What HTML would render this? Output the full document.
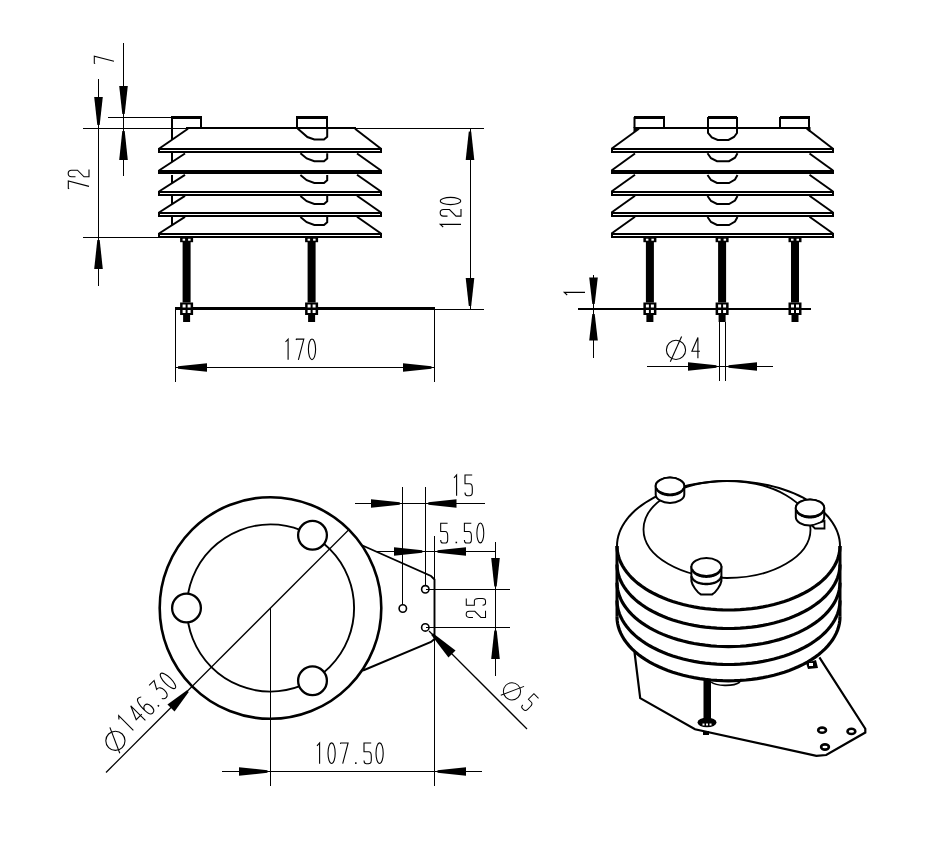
<!DOCTYPE html>
<html><head><meta charset="utf-8"><style>
html,body{margin:0;padding:0;background:#fff;}
svg{display:block;}
</style></head><body>
<svg width="950" height="864" viewBox="0 0 950 864">
<rect width="950" height="864" fill="#fff"/>
<g stroke="#000" fill="none" stroke-linecap="butt" stroke-linejoin="miter">
<line x1="123.5" y1="43" x2="123.5" y2="176" stroke-width="1.0" shape-rendering="crispEdges"/>
<path d="M119.20,86.00 L122.30,114.00 L124.70,114.00 L127.80,86.00Z" stroke="none" fill="#000"/>
<path d="M127.80,160.00 L124.70,131.00 L122.30,131.00 L119.20,160.00Z" stroke="none" fill="#000"/>
<line x1="108" y1="117.5" x2="172" y2="117.5" stroke-width="1.0" shape-rendering="crispEdges"/>
<line x1="83" y1="128.5" x2="484" y2="128.5" stroke-width="1.0" shape-rendering="crispEdges"/>
<g transform="translate(94,63.8) rotate(-90) scale(0.95)"><g transform="translate(0.00,0)"><path d="M0.3,1.2 L0.6,0.3 L8,0.3 L2.6,21" stroke-width="1.1" fill="none"/></g></g>
<line x1="98.5" y1="79" x2="98.5" y2="286" stroke-width="1.0" shape-rendering="crispEdges"/>
<path d="M94.20,97.00 L97.30,125.00 L99.70,125.00 L102.80,97.00Z" stroke="none" fill="#000"/>
<path d="M102.80,269.00 L99.70,240.00 L97.30,240.00 L94.20,269.00Z" stroke="none" fill="#000"/>
<line x1="83" y1="237.5" x2="159" y2="237.5" stroke-width="1.0" shape-rendering="crispEdges"/>
<g transform="translate(68,189) rotate(-90) scale(1.0)"><g transform="translate(0.00,0)"><path d="M0.3,1.2 L0.6,0.3 L8,0.3 L2.6,21" stroke-width="1.1" fill="none"/></g><g transform="translate(11.80,0)"><path d="M0.4,7.5 L0.4,3.5 C0.4,1 2,0.2 3.8,0.2 C5.8,0.2 7,1.5 7,3.5 L7,9.5 L0.4,16 L0.4,21 L7.6,21" stroke-width="1.1" fill="none"/></g></g>
<line x1="470" y1="128" x2="470" y2="309" stroke-width="1.0" shape-rendering="crispEdges"/>
<path d="M474.30,160.00 L471.20,131.50 L468.80,131.50 L465.70,160.00Z" stroke="none" fill="#000"/>
<path d="M465.70,278.00 L468.80,306.00 L471.20,306.00 L474.30,278.00Z" stroke="none" fill="#000"/>
<line x1="435" y1="309.5" x2="484" y2="309.5" stroke-width="1.0" shape-rendering="crispEdges"/>
<g transform="translate(440,228) rotate(-90) scale(1.0)"><g transform="translate(0.00,0)"><path d="M1,3.2 L3.6,0.3 L3.6,21" stroke-width="1.1" fill="none"/></g><g transform="translate(11.50,0)"><path d="M0.4,7.5 L0.4,3.5 C0.4,1 2,0.2 3.8,0.2 C5.8,0.2 7,1.5 7,3.5 L7,9.5 L0.4,16 L0.4,21 L7.6,21" stroke-width="1.1" fill="none"/></g><g transform="translate(23.00,0)"><ellipse cx="4" cy="10.5" rx="3.6" ry="10.3" stroke-width="1.1" fill="none"/></g></g>
<line x1="175" y1="308" x2="175" y2="382" stroke-width="1.0" shape-rendering="crispEdges"/>
<line x1="434.5" y1="309" x2="434.5" y2="382" stroke-width="1.0" shape-rendering="crispEdges"/>
<line x1="175" y1="367.5" x2="434.5" y2="367.5" stroke-width="1.0" shape-rendering="crispEdges"/>
<path d="M207.00,363.20 L178.00,366.30 L178.00,368.70 L207.00,371.80Z" stroke="none" fill="#000"/>
<path d="M403.00,371.80 L431.50,368.70 L431.50,366.30 L403.00,363.20Z" stroke="none" fill="#000"/>
<g transform="translate(284.5,338.8) rotate(0) scale(1.0)"><g transform="translate(0.00,0)"><path d="M1,3.2 L3.6,0.3 L3.6,21" stroke-width="1.1" fill="none"/></g><g transform="translate(11.30,0)"><path d="M0.3,1.2 L0.6,0.3 L8,0.3 L2.6,21" stroke-width="1.1" fill="none"/></g><g transform="translate(23.50,0)"><ellipse cx="4" cy="10.5" rx="3.6" ry="10.3" stroke-width="1.1" fill="none"/></g></g>
<path d="M188.00,128.80 L159.00,148.70" stroke-width="2.0" fill="none"/>
<path d="M355.00,128.80 L381.00,148.70" stroke-width="2.0" fill="none"/>
<rect x="158" y="148.2" width="224" height="2" fill="#000" stroke="none" shape-rendering="crispEdges"/>
<rect x="158" y="151.2" width="224" height="2" fill="#000" stroke="none" shape-rendering="crispEdges"/>
<rect x="158" y="148.2" width="2" height="5" fill="#000" stroke="none" shape-rendering="crispEdges"/>
<rect x="380" y="148.2" width="2" height="5" fill="#000" stroke="none" shape-rendering="crispEdges"/>
<path d="M185.00,153.50 L159.00,170.50" stroke-width="2.0" fill="none"/>
<path d="M357.00,153.50 L381.00,170.50" stroke-width="2.0" fill="none"/>
<rect x="158" y="170" width="224" height="4" fill="#000" stroke="none" shape-rendering="crispEdges"/>
<path d="M185.00,174.80 L159.00,191.50" stroke-width="2.0" fill="none"/>
<path d="M357.00,174.80 L381.00,191.50" stroke-width="2.0" fill="none"/>
<rect x="158" y="191" width="224" height="2" fill="#000" stroke="none" shape-rendering="crispEdges"/>
<rect x="158" y="194" width="224" height="2" fill="#000" stroke="none" shape-rendering="crispEdges"/>
<rect x="158" y="191" width="2" height="5" fill="#000" stroke="none" shape-rendering="crispEdges"/>
<rect x="380" y="191" width="2" height="5" fill="#000" stroke="none" shape-rendering="crispEdges"/>
<path d="M185.00,195.80 L159.00,212.50" stroke-width="2.0" fill="none"/>
<path d="M357.00,195.80 L381.00,212.50" stroke-width="2.0" fill="none"/>
<rect x="158" y="212" width="224" height="2" fill="#000" stroke="none" shape-rendering="crispEdges"/>
<rect x="158" y="215" width="224" height="2" fill="#000" stroke="none" shape-rendering="crispEdges"/>
<rect x="158" y="212" width="2" height="5" fill="#000" stroke="none" shape-rendering="crispEdges"/>
<rect x="380" y="212" width="2" height="5" fill="#000" stroke="none" shape-rendering="crispEdges"/>
<path d="M185.00,216.80 L159.00,233.50" stroke-width="2.0" fill="none"/>
<path d="M357.00,216.80 L381.00,233.50" stroke-width="2.0" fill="none"/>
<rect x="158" y="233" width="224" height="2" fill="#000" stroke="none" shape-rendering="crispEdges"/>
<rect x="158" y="236" width="224" height="2" fill="#000" stroke="none" shape-rendering="crispEdges"/>
<rect x="158" y="233" width="2" height="5" fill="#000" stroke="none" shape-rendering="crispEdges"/>
<rect x="380" y="233" width="2" height="5" fill="#000" stroke="none" shape-rendering="crispEdges"/>
<rect x="186" y="127" width="170" height="2" fill="#000" stroke="none" shape-rendering="crispEdges"/>
<rect x="170.5" y="128" width="2" height="11.5" fill="#000" stroke="none" shape-rendering="crispEdges"/>
<rect x="170.5" y="153.2" width="2" height="8.5" fill="#000" stroke="none" shape-rendering="crispEdges"/>
<rect x="170.5" y="175" width="2" height="7.8" fill="#000" stroke="none" shape-rendering="crispEdges"/>
<rect x="170.5" y="196" width="2" height="7.8" fill="#000" stroke="none" shape-rendering="crispEdges"/>
<rect x="170.5" y="217" width="2" height="7.8" fill="#000" stroke="none" shape-rendering="crispEdges"/>
<path d="M172,128 L172,118 L201,118 L201,128" stroke-width="2.0" fill="none"/>
<rect x="171" y="116" width="31" height="2.7" fill="#000" stroke="none" shape-rendering="crispEdges"/>
<path d="M297,128 L297,118 L327,118 L327,128" stroke-width="2.0" fill="none"/>
<rect x="296" y="116" width="32" height="2.7" fill="#000" stroke="none" shape-rendering="crispEdges"/>
<path d="M297.6,128.5 L307.4,137 L314.3,139.5 L324,139.5 L327.2,136.7 L327.2,128.5" stroke-width="2.0" fill="none"/>
<path d="M300.4,153.2 L306.7,158.39999999999998 L314.3,161.2 L324,161.2 L327.2,158.5 L327.2,153.2" stroke-width="2.0" fill="none"/>
<path d="M300.4,175 L306.7,180.2 L314.3,183 L324,183 L327.2,180.3 L327.2,175" stroke-width="2.0" fill="none"/>
<path d="M300.4,196 L306.7,201.2 L314.3,204 L324,204 L327.2,201.3 L327.2,196" stroke-width="2.0" fill="none"/>
<path d="M300.4,217 L306.7,222.2 L314.3,225 L324,225 L327.2,222.3 L327.2,217" stroke-width="2.0" fill="none"/>
<rect x="175" y="307" width="260" height="3" fill="#000" stroke="none" shape-rendering="crispEdges"/>
<rect x="180.1" y="237.7" width="13" height="4.5" fill="#000" stroke="none"/>
<rect x="182.6" y="238.7" width="2.5" height="2" fill="#fff" stroke="none"/>
<rect x="188.1" y="238.7" width="2.5" height="2" fill="#fff" stroke="none"/>
<rect x="182.6" y="241.7" width="8" height="60.80000000000001" fill="#000" stroke="none"/>
<rect x="180.1" y="302.5" width="13" height="12.5" fill="#000" stroke="none"/>
<rect x="182.6" y="304.5" width="3" height="3" fill="#fff" stroke="none"/>
<rect x="187.6" y="304.5" width="3" height="3" fill="#fff" stroke="none"/>
<rect x="182.6" y="310.0" width="3" height="3" fill="#fff" stroke="none"/>
<rect x="187.6" y="310.0" width="3" height="3" fill="#fff" stroke="none"/>
<rect x="183.1" y="315.0" width="7" height="7.0" fill="#000" stroke="none"/>
<rect x="305.1" y="237.7" width="13" height="4.5" fill="#000" stroke="none"/>
<rect x="307.6" y="238.7" width="2.5" height="2" fill="#fff" stroke="none"/>
<rect x="313.1" y="238.7" width="2.5" height="2" fill="#fff" stroke="none"/>
<rect x="307.6" y="241.7" width="8" height="60.80000000000001" fill="#000" stroke="none"/>
<rect x="305.1" y="302.5" width="13" height="12.5" fill="#000" stroke="none"/>
<rect x="307.6" y="304.5" width="3" height="3" fill="#fff" stroke="none"/>
<rect x="312.6" y="304.5" width="3" height="3" fill="#fff" stroke="none"/>
<rect x="307.6" y="310.0" width="3" height="3" fill="#fff" stroke="none"/>
<rect x="312.6" y="310.0" width="3" height="3" fill="#fff" stroke="none"/>
<rect x="308.1" y="315.0" width="7" height="7.0" fill="#000" stroke="none"/>
<path d="M639.00,128.80 L611.50,148.70" stroke-width="2.0" fill="none"/>
<path d="M807.00,128.80 L833.00,148.70" stroke-width="2.0" fill="none"/>
<rect x="610.5" y="148.2" width="223.5" height="2" fill="#000" stroke="none" shape-rendering="crispEdges"/>
<rect x="610.5" y="151.2" width="223.5" height="2" fill="#000" stroke="none" shape-rendering="crispEdges"/>
<rect x="610.5" y="148.2" width="2" height="5" fill="#000" stroke="none" shape-rendering="crispEdges"/>
<rect x="832" y="148.2" width="2" height="5" fill="#000" stroke="none" shape-rendering="crispEdges"/>
<path d="M635.00,153.50 L611.50,170.50" stroke-width="2.0" fill="none"/>
<path d="M809.50,153.50 L833.00,170.50" stroke-width="2.0" fill="none"/>
<rect x="610.5" y="170" width="223.5" height="4" fill="#000" stroke="none" shape-rendering="crispEdges"/>
<path d="M635.00,174.80 L611.50,191.50" stroke-width="2.0" fill="none"/>
<path d="M809.50,174.80 L833.00,191.50" stroke-width="2.0" fill="none"/>
<rect x="610.5" y="191" width="223.5" height="2" fill="#000" stroke="none" shape-rendering="crispEdges"/>
<rect x="610.5" y="194" width="223.5" height="2" fill="#000" stroke="none" shape-rendering="crispEdges"/>
<rect x="610.5" y="191" width="2" height="5" fill="#000" stroke="none" shape-rendering="crispEdges"/>
<rect x="832" y="191" width="2" height="5" fill="#000" stroke="none" shape-rendering="crispEdges"/>
<path d="M635.00,195.80 L611.50,212.50" stroke-width="2.0" fill="none"/>
<path d="M809.50,195.80 L833.00,212.50" stroke-width="2.0" fill="none"/>
<rect x="610.5" y="212" width="223.5" height="2" fill="#000" stroke="none" shape-rendering="crispEdges"/>
<rect x="610.5" y="215" width="223.5" height="2" fill="#000" stroke="none" shape-rendering="crispEdges"/>
<rect x="610.5" y="212" width="2" height="5" fill="#000" stroke="none" shape-rendering="crispEdges"/>
<rect x="832" y="212" width="2" height="5" fill="#000" stroke="none" shape-rendering="crispEdges"/>
<path d="M635.00,216.80 L611.50,233.50" stroke-width="2.0" fill="none"/>
<path d="M809.50,216.80 L833.00,233.50" stroke-width="2.0" fill="none"/>
<rect x="610.5" y="233" width="223.5" height="2" fill="#000" stroke="none" shape-rendering="crispEdges"/>
<rect x="610.5" y="236" width="223.5" height="2" fill="#000" stroke="none" shape-rendering="crispEdges"/>
<rect x="610.5" y="233" width="2" height="5" fill="#000" stroke="none" shape-rendering="crispEdges"/>
<rect x="832" y="233" width="2" height="5" fill="#000" stroke="none" shape-rendering="crispEdges"/>
<rect x="637" y="127" width="171" height="2" fill="#000" stroke="none" shape-rendering="crispEdges"/>
<path d="M634.5,128 L634.5,118 L664,118 L664,128" stroke-width="2.0" fill="none"/>
<rect x="634" y="116" width="30.5" height="2.7" fill="#000" stroke="none" shape-rendering="crispEdges"/>
<path d="M633.5,127 L640,127 L635,132 L633.5,132Z" fill="#000" stroke="none"/>
<path d="M780,128 L780,118 L809,118 L809,128" stroke-width="2.0" fill="none"/>
<rect x="779.5" y="116" width="30" height="2.7" fill="#000" stroke="none" shape-rendering="crispEdges"/>
<path d="M810.5,127 L804,127 L809.5,132 L810.5,132Z" fill="#000" stroke="none"/>
<path d="M708,128 L708,118 L737,118 L737,128" stroke-width="2.0" fill="none"/>
<rect x="708" y="116" width="29" height="2.7" fill="#000" stroke="none" shape-rendering="crispEdges"/>
<path d="M708,128 L708,133 L711.8,137.4 L717.7,139.9 L728.5,139.9 L734,137 L737,133 L737,128" stroke-width="2.0" fill="none"/>
<path d="M707.5,153.2 L711,158.2 L717,161.2 L729,161.2 L735,157.7 L737.5,153.2" stroke-width="2.0" fill="none"/>
<path d="M707.5,175 L711,180 L717,183 L729,183 L735,179.5 L737.5,175" stroke-width="2.0" fill="none"/>
<path d="M707.5,196 L711,201 L717,204 L729,204 L735,200.5 L737.5,196" stroke-width="2.0" fill="none"/>
<path d="M707.5,217 L711,222 L717,225 L729,225 L735,221.5 L737.5,217" stroke-width="2.0" fill="none"/>
<rect x="578" y="308" width="233" height="2" fill="#000" stroke="none" shape-rendering="crispEdges"/>
<rect x="643.4" y="237.7" width="13" height="4.5" fill="#000" stroke="none"/>
<rect x="645.9" y="238.7" width="2.5" height="2" fill="#fff" stroke="none"/>
<rect x="651.4" y="238.7" width="2.5" height="2" fill="#fff" stroke="none"/>
<rect x="645.9" y="241.7" width="8" height="60.80000000000001" fill="#000" stroke="none"/>
<rect x="643.4" y="302.5" width="13" height="12.5" fill="#000" stroke="none"/>
<rect x="645.9" y="304.5" width="3" height="3" fill="#fff" stroke="none"/>
<rect x="650.9" y="304.5" width="3" height="3" fill="#fff" stroke="none"/>
<rect x="645.9" y="310.0" width="3" height="3" fill="#fff" stroke="none"/>
<rect x="650.9" y="310.0" width="3" height="3" fill="#fff" stroke="none"/>
<rect x="646.4" y="315.0" width="7" height="7.0" fill="#000" stroke="none"/>
<rect x="715.6" y="237.7" width="13" height="4.5" fill="#000" stroke="none"/>
<rect x="718.1" y="238.7" width="2.5" height="2" fill="#fff" stroke="none"/>
<rect x="723.6" y="238.7" width="2.5" height="2" fill="#fff" stroke="none"/>
<rect x="718.1" y="241.7" width="8" height="60.80000000000001" fill="#000" stroke="none"/>
<rect x="715.6" y="302.5" width="13" height="12.5" fill="#000" stroke="none"/>
<rect x="718.1" y="304.5" width="3" height="3" fill="#fff" stroke="none"/>
<rect x="723.1" y="304.5" width="3" height="3" fill="#fff" stroke="none"/>
<rect x="718.1" y="310.0" width="3" height="3" fill="#fff" stroke="none"/>
<rect x="723.1" y="310.0" width="3" height="3" fill="#fff" stroke="none"/>
<rect x="718.6" y="315.0" width="7" height="7.0" fill="#000" stroke="none"/>
<rect x="788.5" y="237.7" width="13" height="4.5" fill="#000" stroke="none"/>
<rect x="791.0" y="238.7" width="2.5" height="2" fill="#fff" stroke="none"/>
<rect x="796.5" y="238.7" width="2.5" height="2" fill="#fff" stroke="none"/>
<rect x="791.0" y="241.7" width="8" height="60.80000000000001" fill="#000" stroke="none"/>
<rect x="788.5" y="302.5" width="13" height="12.5" fill="#000" stroke="none"/>
<rect x="791.0" y="304.5" width="3" height="3" fill="#fff" stroke="none"/>
<rect x="796.0" y="304.5" width="3" height="3" fill="#fff" stroke="none"/>
<rect x="791.0" y="310.0" width="3" height="3" fill="#fff" stroke="none"/>
<rect x="796.0" y="310.0" width="3" height="3" fill="#fff" stroke="none"/>
<rect x="791.5" y="315.0" width="7" height="7.0" fill="#000" stroke="none"/>
<line x1="593.5" y1="275" x2="593.5" y2="358" stroke-width="1.0" shape-rendering="crispEdges"/>
<path d="M589.20,277.40 L592.30,304.00 L594.70,304.00 L597.80,277.40Z" stroke="none" fill="#000"/>
<path d="M597.80,340.50 L594.70,314.00 L592.30,314.00 L589.20,340.50Z" stroke="none" fill="#000"/>
<g transform="translate(564,296) rotate(-90) scale(1.0)"><g transform="translate(0.00,0)"><path d="M1,3.2 L3.6,0.3 L3.6,21" stroke-width="1.1" fill="none"/></g></g>
<line x1="719.5" y1="322" x2="719.5" y2="381" stroke-width="1.0" shape-rendering="crispEdges"/>
<line x1="725.5" y1="322" x2="725.5" y2="381" stroke-width="1.0" shape-rendering="crispEdges"/>
<line x1="647" y1="366.5" x2="772.5" y2="366.5" stroke-width="1.0" shape-rendering="crispEdges"/>
<path d="M688.00,370.80 L716.50,367.70 L716.50,365.30 L688.00,362.20Z" stroke="none" fill="#000"/>
<path d="M757.00,362.20 L728.50,365.30 L728.50,367.70 L757.00,370.80Z" stroke="none" fill="#000"/>
<g transform="translate(666,337.2) rotate(0) scale(1.0)"><g transform="translate(0.00,0)"><circle cx="10" cy="12.7" r="9.6" stroke-width="1.1" fill="none"/><path d="M15.6,-0.7 L4.3,24.6" stroke-width="1.1" fill="none"/></g><g transform="translate(25.30,0)"><path d="M6.6,21 L6.6,0.3 L0.6,14 L8.6,14" stroke-width="1.1" fill="none"/></g></g>
<circle cx="270.5" cy="608" r="110.8" stroke-width="2.6" fill="none"/>
<circle cx="270.5" cy="608" r="83.6" stroke-width="1.9" fill="none"/>
<circle cx="186.50" cy="608.00" r="14.4" stroke-width="2.3" fill="#fff"/>
<circle cx="312.50" cy="535.25" r="14.4" stroke-width="2.3" fill="#fff"/>
<circle cx="312.50" cy="680.75" r="14.4" stroke-width="2.3" fill="#fff"/>
<line x1="348.5" y1="530" x2="106" y2="772.5" stroke-width="1.25"/>
<line x1="270.5" y1="608" x2="270.5" y2="786" stroke-width="1.0" shape-rendering="crispEdges"/>
<path d="M362.50,545.50 L431.00,576.00 L434.50,579.50 L434.50,639.00 L431.00,642.00 L363.00,670.50" stroke-width="1.9" fill="none"/>
<circle cx="425.3" cy="589.3" r="3.7" stroke-width="1.6" fill="#fff"/>
<circle cx="425.3" cy="627.4" r="3.7" stroke-width="1.6" fill="#fff"/>
<circle cx="402.8" cy="608.5" r="3.7" stroke-width="1.6" fill="#fff"/>
<line x1="402.8" y1="487" x2="402.8" y2="604.5" stroke-width="1.0" shape-rendering="crispEdges"/>
<line x1="425.3" y1="487" x2="425.3" y2="585.5" stroke-width="1.0" shape-rendering="crispEdges"/>
<line x1="434.5" y1="536" x2="434.5" y2="786" stroke-width="1.0" shape-rendering="crispEdges"/>
<line x1="354.5" y1="503.5" x2="484.5" y2="503.5" stroke-width="1.0" shape-rendering="crispEdges"/>
<path d="M371.00,507.80 L399.80,504.70 L399.80,502.30 L371.00,499.20Z" stroke="none" fill="#000"/>
<path d="M456.50,499.20 L428.30,502.30 L428.30,504.70 L456.50,507.80Z" stroke="none" fill="#000"/>
<g transform="translate(453,474.7) rotate(0) scale(1.0)"><g transform="translate(0.00,0)"><path d="M1,3.2 L3.6,0.3 L3.6,21" stroke-width="1.1" fill="none"/></g><g transform="translate(11.40,0)"><path d="M7.8,0.3 L0.6,0.3 L0.6,9 L5.3,9 C7.3,9 7.9,10.8 7.9,13.5 L7.9,17.5 C7.9,20 7,21 5,21 L3,21 C1.5,21 0.6,20 0.6,17.8" stroke-width="1.1" fill="none"/></g></g>
<line x1="375.5" y1="551.5" x2="496" y2="551.5" stroke-width="1.0" shape-rendering="crispEdges"/>
<path d="M394.00,555.80 L422.30,552.70 L422.30,550.30 L394.00,547.20Z" stroke="none" fill="#000"/>
<path d="M466.00,547.20 L437.50,550.30 L437.50,552.70 L466.00,555.80Z" stroke="none" fill="#000"/>
<g transform="translate(440.1,522.9) rotate(0) scale(0.96)"><g transform="translate(0.00,0)"><path d="M7.8,0.3 L0.6,0.3 L0.6,9 L5.3,9 C7.3,9 7.9,10.8 7.9,13.5 L7.9,17.5 C7.9,20 7,21 5,21 L3,21 C1.5,21 0.6,20 0.6,17.8" stroke-width="1.1" fill="none"/></g><g transform="translate(15.80,0)"><rect x="0.3" y="19.6" width="1.6" height="1.6" stroke="none" fill="#000"/></g><g transform="translate(24.70,0)"><path d="M7.8,0.3 L0.6,0.3 L0.6,9 L5.3,9 C7.3,9 7.9,10.8 7.9,13.5 L7.9,17.5 C7.9,20 7,21 5,21 L3,21 C1.5,21 0.6,20 0.6,17.8" stroke-width="1.1" fill="none"/></g><g transform="translate(37.90,0)"><ellipse cx="4" cy="10.5" rx="3.6" ry="10.3" stroke-width="1.1" fill="none"/></g></g>
<line x1="425.5" y1="589.5" x2="510" y2="589.5" stroke-width="1.0" shape-rendering="crispEdges"/>
<line x1="425.5" y1="627.5" x2="510" y2="627.5" stroke-width="1.0" shape-rendering="crispEdges"/>
<line x1="495.5" y1="542" x2="495.5" y2="676" stroke-width="1.0" shape-rendering="crispEdges"/>
<path d="M491.20,558.00 L494.30,586.50 L496.70,586.50 L499.80,558.00Z" stroke="none" fill="#000"/>
<path d="M499.80,659.00 L496.70,630.50 L494.30,630.50 L491.20,659.00Z" stroke="none" fill="#000"/>
<g transform="translate(466,617.8) rotate(-90) scale(0.93)"><g transform="translate(0.00,0)"><path d="M0.4,7.5 L0.4,3.5 C0.4,1 2,0.2 3.8,0.2 C5.8,0.2 7,1.5 7,3.5 L7,9.5 L0.4,16 L0.4,21 L7.6,21" stroke-width="1.1" fill="none"/></g><g transform="translate(12.90,0)"><path d="M7.8,0.3 L0.6,0.3 L0.6,9 L5.3,9 C7.3,9 7.9,10.8 7.9,13.5 L7.9,17.5 C7.9,20 7,21 5,21 L3,21 C1.5,21 0.6,20 0.6,17.8" stroke-width="1.1" fill="none"/></g></g>
<line x1="429" y1="631" x2="527" y2="729" stroke-width="1.25"/>
<path d="M455.54,650.46 L432.97,633.27 L431.27,634.97 L448.46,657.54Z" stroke="none" fill="#000"/>
<g transform="translate(513.7,676.9) rotate(45) scale(0.9)"><circle cx="10" cy="12.7" r="9.6" stroke-width="1.1" fill="none"/><path d="M15.6,-0.7 L4.3,24.6" stroke-width="1.1" fill="none"/><g transform="translate(28.5,-3)"><path d="M7.8,0.3 L0.6,0.3 L0.6,9 L5.3,9 C7.3,9 7.9,10.8 7.9,13.5 L7.9,17.5 C7.9,20 7,21 5,21 L3,21 C1.5,21 0.6,20 0.6,17.8" stroke-width="1.1" fill="none"/></g></g>
<line x1="222" y1="771.5" x2="481.5" y2="771.5" stroke-width="1.0" shape-rendering="crispEdges"/>
<path d="M239.00,775.80 L267.50,772.70 L267.50,770.30 L239.00,767.20Z" stroke="none" fill="#000"/>
<path d="M466.00,767.20 L437.50,770.30 L437.50,772.70 L466.00,775.80Z" stroke="none" fill="#000"/>
<g transform="translate(316,742.7) rotate(0) scale(1.0)"><g transform="translate(0.00,0)"><path d="M1,3.2 L3.6,0.3 L3.6,21" stroke-width="1.1" fill="none"/></g><g transform="translate(11.60,0)"><ellipse cx="4" cy="10.5" rx="3.6" ry="10.3" stroke-width="1.1" fill="none"/></g><g transform="translate(24.10,0)"><path d="M0.3,1.2 L0.6,0.3 L8,0.3 L2.6,21" stroke-width="1.1" fill="none"/></g><g transform="translate(38.70,0)"><rect x="0.3" y="19.6" width="1.6" height="1.6" stroke="none" fill="#000"/></g><g transform="translate(47.40,0)"><path d="M7.8,0.3 L0.6,0.3 L0.6,9 L5.3,9 C7.3,9 7.9,10.8 7.9,13.5 L7.9,17.5 C7.9,20 7,21 5,21 L3,21 C1.5,21 0.6,20 0.6,17.8" stroke-width="1.1" fill="none"/></g><g transform="translate(59.60,0)"><ellipse cx="4" cy="10.5" rx="3.6" ry="10.3" stroke-width="1.1" fill="none"/></g></g>
<path d="M174.54,711.54 L188.73,691.97 L187.03,690.27 L167.46,704.46Z" stroke="none" fill="#000"/>
<g transform="translate(99,735) rotate(-45)"><g transform="translate(-2.5,3)"><circle cx="10" cy="12.7" r="9.6" stroke-width="1.1" fill="none"/><path d="M15.6,-0.7 L4.3,24.6" stroke-width="1.1" fill="none"/></g><g transform="translate(24,0)"><path d="M1,3.2 L3.6,0.3 L3.6,21" stroke-width="1.1" fill="none"/></g><g transform="translate(36.5,1.5)"><path d="M6.6,21 L6.6,0.3 L0.6,14 L8.6,14" stroke-width="1.1" fill="none"/></g><g transform="translate(49.5,1.5)"><path d="M7.2,1.5 C6.2,0.5 5,0.2 4,0.2 C1.5,0.2 0.2,4 0.2,13.5 C0.2,18.5 1.8,21 4,21 C6.5,21 7.8,18.5 7.8,15.5 C7.8,12 6.5,9.8 4,9.8 C2,9.8 0.8,11.5 0.2,13.5" stroke-width="1.1" fill="none"/></g><g transform="translate(61.5,1)"><rect x="0.3" y="19.6" width="1.6" height="1.6" stroke="none" fill="#000"/></g><g transform="translate(70,0)"><path d="M0.5,0.4 L7.5,0.4 L3,8.5 C6,8.3 8,10.5 8,14.5 C8,19 6.5,21 4,21 C2,21 0.8,20 0.3,18.5" stroke-width="1.1" fill="none"/></g><g transform="translate(83,0)"><ellipse cx="4" cy="10.5" rx="3.6" ry="10.3" stroke-width="1.1" fill="none"/></g></g>
<path d="M617.0,546 L617.0,616.8" stroke-width="3.0" fill="none"/>
<path d="M840.0,546 L840.0,616.8" stroke-width="3.0" fill="none"/>
<path d="M617.00,546.00 L617.15,542.60 L617.61,539.21 L618.37,535.83 L619.44,532.49 L620.80,529.18 L622.46,525.91 L624.41,522.71 L626.64,519.56 L629.15,516.49 L631.94,513.50 L634.99,510.60 L638.29,507.79 L641.85,505.09 L645.64,502.51 L649.66,500.04 L653.89,497.70 L658.33,495.49 L662.96,493.41 L667.77,491.49 L672.75,489.71 L677.88,488.08 L683.15,486.62 L688.54,485.32 L694.04,484.18 L699.64,483.21 L705.32,482.42 L711.06,481.80 L716.85,481.36 L722.66,481.09 L728.50,481.00 L734.34,481.09 L740.15,481.36 L745.94,481.80 L751.68,482.42 L757.36,483.21 L762.96,484.18 L768.46,485.32 L773.85,486.62 L779.12,488.08 L784.25,489.71 L789.23,491.49 L794.04,493.41 L798.67,495.49 L803.11,497.70 L807.34,500.04 L811.36,502.51 L815.15,505.09 L818.71,507.79 L822.01,510.60 L825.06,513.50 L827.85,516.49 L830.36,519.56 L832.59,522.71 L834.54,525.91 L836.20,529.18 L837.56,532.49 L838.63,535.83 L839.39,539.21 L839.85,542.60 L840.00,546.00" stroke-width="2.0" fill="none"/>
<path d="M840.00,546.00 L839.85,549.35 L839.39,552.69 L838.63,556.01 L837.56,559.31 L836.20,562.56 L834.54,565.78 L832.59,568.94 L830.36,572.03 L827.85,575.06 L825.06,578.00 L822.01,580.86 L818.71,583.62 L815.15,586.28 L811.36,588.82 L807.34,591.25 L803.11,593.56 L798.67,595.74 L794.04,597.78 L789.23,599.67 L784.25,601.43 L779.12,603.02 L773.85,604.47 L768.46,605.75 L762.96,606.87 L757.36,607.82 L751.68,608.60 L745.94,609.21 L740.15,609.65 L734.34,609.91 L728.50,610.00 L722.66,609.91 L716.85,609.65 L711.06,609.21 L705.32,608.60 L699.64,607.82 L694.04,606.87 L688.54,605.75 L683.15,604.47 L677.88,603.02 L672.75,601.43 L667.77,599.67 L662.96,597.78 L658.33,595.74 L653.89,593.56 L649.66,591.25 L645.64,588.82 L641.85,586.28 L638.29,583.62 L634.99,580.86 L631.94,578.00 L629.15,575.06 L626.64,572.03 L624.41,568.94 L622.46,565.78 L620.80,562.56 L619.44,559.31 L618.37,556.01 L617.61,552.69 L617.15,549.35 L617.00,546.00" stroke-width="3.2" fill="none"/>
<path d="M840.00,564.50 L839.85,567.85 L839.39,571.19 L838.63,574.51 L837.56,577.81 L836.20,581.06 L834.54,584.28 L832.59,587.44 L830.36,590.53 L827.85,593.56 L825.06,596.50 L822.01,599.36 L818.71,602.12 L815.15,604.78 L811.36,607.32 L807.34,609.75 L803.11,612.06 L798.67,614.24 L794.04,616.28 L789.23,618.17 L784.25,619.93 L779.12,621.52 L773.85,622.97 L768.46,624.25 L762.96,625.37 L757.36,626.32 L751.68,627.10 L745.94,627.71 L740.15,628.15 L734.34,628.41 L728.50,628.50 L722.66,628.41 L716.85,628.15 L711.06,627.71 L705.32,627.10 L699.64,626.32 L694.04,625.37 L688.54,624.25 L683.15,622.97 L677.88,621.52 L672.75,619.93 L667.77,618.17 L662.96,616.28 L658.33,614.24 L653.89,612.06 L649.66,609.75 L645.64,607.32 L641.85,604.78 L638.29,602.12 L634.99,599.36 L631.94,596.50 L629.15,593.56 L626.64,590.53 L624.41,587.44 L622.46,584.28 L620.80,581.06 L619.44,577.81 L618.37,574.51 L617.61,571.19 L617.15,567.85 L617.00,564.50" stroke-width="3.2" fill="none"/>
<path d="M840.00,582.60 L839.85,585.95 L839.39,589.29 L838.63,592.61 L837.56,595.91 L836.20,599.16 L834.54,602.38 L832.59,605.54 L830.36,608.63 L827.85,611.66 L825.06,614.60 L822.01,617.46 L818.71,620.22 L815.15,622.88 L811.36,625.42 L807.34,627.85 L803.11,630.16 L798.67,632.34 L794.04,634.38 L789.23,636.27 L784.25,638.03 L779.12,639.62 L773.85,641.07 L768.46,642.35 L762.96,643.47 L757.36,644.42 L751.68,645.20 L745.94,645.81 L740.15,646.25 L734.34,646.51 L728.50,646.60 L722.66,646.51 L716.85,646.25 L711.06,645.81 L705.32,645.20 L699.64,644.42 L694.04,643.47 L688.54,642.35 L683.15,641.07 L677.88,639.62 L672.75,638.03 L667.77,636.27 L662.96,634.38 L658.33,632.34 L653.89,630.16 L649.66,627.85 L645.64,625.42 L641.85,622.88 L638.29,620.22 L634.99,617.46 L631.94,614.60 L629.15,611.66 L626.64,608.63 L624.41,605.54 L622.46,602.38 L620.80,599.16 L619.44,595.91 L618.37,592.61 L617.61,589.29 L617.15,585.95 L617.00,582.60" stroke-width="3.2" fill="none"/>
<path d="M840.00,600.50 L839.85,603.85 L839.39,607.19 L838.63,610.51 L837.56,613.81 L836.20,617.06 L834.54,620.28 L832.59,623.44 L830.36,626.53 L827.85,629.56 L825.06,632.50 L822.01,635.36 L818.71,638.12 L815.15,640.78 L811.36,643.32 L807.34,645.75 L803.11,648.06 L798.67,650.24 L794.04,652.28 L789.23,654.17 L784.25,655.93 L779.12,657.52 L773.85,658.97 L768.46,660.25 L762.96,661.37 L757.36,662.32 L751.68,663.10 L745.94,663.71 L740.15,664.15 L734.34,664.41 L728.50,664.50 L722.66,664.41 L716.85,664.15 L711.06,663.71 L705.32,663.10 L699.64,662.32 L694.04,661.37 L688.54,660.25 L683.15,658.97 L677.88,657.52 L672.75,655.93 L667.77,654.17 L662.96,652.28 L658.33,650.24 L653.89,648.06 L649.66,645.75 L645.64,643.32 L641.85,640.78 L638.29,638.12 L634.99,635.36 L631.94,632.50 L629.15,629.56 L626.64,626.53 L624.41,623.44 L622.46,620.28 L620.80,617.06 L619.44,613.81 L618.37,610.51 L617.61,607.19 L617.15,603.85 L617.00,600.50" stroke-width="3.2" fill="none"/>
<path d="M840.00,616.80 L839.85,620.15 L839.39,623.49 L838.63,626.81 L837.56,630.11 L836.20,633.36 L834.54,636.58 L832.59,639.74 L830.36,642.83 L827.85,645.86 L825.06,648.80 L822.01,651.66 L818.71,654.42 L815.15,657.08 L811.36,659.62 L807.34,662.05 L803.11,664.36 L798.67,666.54 L794.04,668.58 L789.23,670.47 L784.25,672.23 L779.12,673.82 L773.85,675.27 L768.46,676.55 L762.96,677.67 L757.36,678.62 L751.68,679.40 L745.94,680.01 L740.15,680.45 L734.34,680.71 L728.50,680.80 L722.66,680.71 L716.85,680.45 L711.06,680.01 L705.32,679.40 L699.64,678.62 L694.04,677.67 L688.54,676.55 L683.15,675.27 L677.88,673.82 L672.75,672.23 L667.77,670.47 L662.96,668.58 L658.33,666.54 L653.89,664.36 L649.66,662.05 L645.64,659.62 L641.85,657.08 L638.29,654.42 L634.99,651.66 L631.94,648.80 L629.15,645.86 L626.64,642.83 L624.41,639.74 L622.46,636.58 L620.80,633.36 L619.44,630.11 L618.37,626.81 L617.61,623.49 L617.15,620.15 L617.00,616.80" stroke-width="3.2" fill="none"/>
<ellipse cx="727" cy="529.5" rx="83.5" ry="48.5" stroke-width="1.8" fill="none"/>
<path d="M711,682 C716,686 733,687 740,682" stroke-width="1.6" fill="none"/>
<path d="M634.50,652.00 L640.20,698.10 L695.00,729.30 L816.40,755.80 L826.20,755.00 L865.30,732.50 L865.30,728.70 L819.40,657.30" stroke-width="2.2" fill="none"/>
<ellipse cx="822.1" cy="730.2" rx="3.9" ry="2.6" stroke-width="2.6" fill="none"/>
<ellipse cx="851.4" cy="731.4" rx="3.9" ry="2.6" stroke-width="2.6" fill="none"/>
<ellipse cx="825" cy="747" rx="3.9" ry="2.6" stroke-width="2.6" fill="none"/>
<rect x="703.5" y="680" width="7.5" height="41" fill="#000" stroke="none"/>
<ellipse cx="707" cy="722.5" rx="9.5" ry="4.8" fill="#000" stroke="none"/>
<rect x="702.5" y="723.5" width="2" height="2" fill="#fff" stroke="none"/>
<rect x="706" y="723.5" width="2" height="2" fill="#fff" stroke="none"/>
<rect x="709.5" y="723.5" width="2" height="2" fill="#fff" stroke="none"/>
<rect x="703" y="731" width="6" height="4" fill="#000" stroke="none"/>
<path d="M806,663 L816,660 L818,668 L808,669Z" fill="#000" stroke="none"/>
<rect x="809" y="663" width="4" height="3" fill="#fff" stroke="none"/>
<path d="M655.7,486 A14.3,8.4 0 0 1 684.3,486 L684.3,494.5 A14.3,8.4 0 0 1 655.7,494.5 Z" fill="#fff" stroke-width="2.0"/>
<ellipse cx="670" cy="486" rx="14.3" ry="8.4" fill="#fff" stroke-width="2.0"/>
<path d="M683.59,488.26 L683.46,488.64 L683.31,489.02 L683.12,489.40 L682.91,489.76 L682.67,490.13 L682.40,490.48 L682.11,490.83 L681.79,491.17 L681.44,491.50 L681.07,491.82 L680.67,492.12 L680.26,492.42 L679.81,492.71 L679.35,492.98 L678.87,493.23 L678.37,493.48 L677.85,493.71 L677.31,493.92 L676.76,494.12 L676.19,494.31 L675.61,494.47 L675.02,494.62 L674.42,494.76 L673.80,494.87 L673.18,494.97 L672.55,495.05 L671.92,495.12 L671.28,495.16 L670.64,495.19 L670.00,495.20 L669.36,495.19 L668.72,495.16 L668.08,495.12 L667.45,495.05 L666.82,494.97 L666.20,494.87 L665.58,494.76 L664.98,494.62 L664.39,494.47 L663.81,494.31 L663.24,494.12 L662.69,493.92 L662.15,493.71 L661.63,493.48 L661.13,493.23 L660.65,492.98 L660.19,492.71 L659.74,492.42 L659.33,492.12 L658.93,491.82 L658.56,491.50 L658.21,491.17 L657.89,490.83 L657.60,490.48 L657.33,490.13 L657.09,489.76 L656.88,489.40 L656.69,489.02 L656.54,488.64 L656.41,488.26" stroke-width="2.2" fill="none"/>
<path d="M795.8,508 A14.2,8.6 0 0 1 824.2,508 L824.2,517 A14.2,8.6 0 0 1 795.8,517 Z" fill="#fff" stroke-width="2.0"/>
<ellipse cx="810" cy="508" rx="14.2" ry="8.6" fill="#fff" stroke-width="2.0"/>
<path d="M823.49,510.29 L823.37,510.69 L823.21,511.07 L823.03,511.46 L822.82,511.84 L822.58,512.21 L822.31,512.57 L822.02,512.93 L821.70,513.27 L821.36,513.61 L820.99,513.94 L820.60,514.25 L820.18,514.55 L819.74,514.85 L819.28,515.12 L818.81,515.39 L818.31,515.64 L817.79,515.87 L817.26,516.09 L816.71,516.30 L816.15,516.49 L815.57,516.66 L814.98,516.81 L814.38,516.95 L813.78,517.07 L813.16,517.17 L812.54,517.25 L811.91,517.32 L811.27,517.36 L810.64,517.39 L810.00,517.40 L809.36,517.39 L808.73,517.36 L808.09,517.32 L807.46,517.25 L806.84,517.17 L806.22,517.07 L805.62,516.95 L805.02,516.81 L804.43,516.66 L803.85,516.49 L803.29,516.30 L802.74,516.09 L802.21,515.87 L801.69,515.64 L801.19,515.39 L800.72,515.12 L800.26,514.85 L799.82,514.55 L799.40,514.25 L799.01,513.94 L798.64,513.61 L798.30,513.27 L797.98,512.93 L797.69,512.57 L797.42,512.21 L797.18,511.84 L796.97,511.46 L796.79,511.07 L796.63,510.69 L796.51,510.29" stroke-width="2.2" fill="none"/>
<path d="M812,525.5 L824.5,521 L824.5,528.5 L815,528.5Z" fill="#fff" stroke-width="1.8"/>
<path d="M691.4,567 L691.4,581 C692,585 697,592.5 701,594.5 L712,594.5 C716,592.5 720.8,585 721.4,581 L721.4,567 Z" fill="#fff" stroke-width="2.0"/>
<ellipse cx="706.4" cy="567" rx="15" ry="8.9" fill="#fff" stroke-width="2.0"/>
<path d="M720.68,569.35 L720.55,569.75 L720.38,570.15 L720.19,570.55 L719.97,570.94 L719.71,571.33 L719.43,571.70 L719.12,572.07 L718.79,572.43 L718.42,572.78 L718.03,573.11 L717.62,573.44 L717.18,573.76 L716.71,574.06 L716.23,574.34 L715.72,574.62 L715.19,574.88 L714.65,575.12 L714.08,575.35 L713.50,575.56 L712.91,575.75 L712.30,575.93 L711.68,576.09 L711.04,576.23 L710.40,576.36 L709.74,576.46 L709.08,576.55 L708.42,576.61 L707.75,576.66 L707.07,576.69 L706.40,576.70 L705.73,576.69 L705.05,576.66 L704.38,576.61 L703.72,576.55 L703.06,576.46 L702.40,576.36 L701.76,576.23 L701.12,576.09 L700.50,575.93 L699.89,575.75 L699.30,575.56 L698.72,575.35 L698.15,575.12 L697.61,574.88 L697.08,574.62 L696.57,574.34 L696.09,574.06 L695.62,573.76 L695.18,573.44 L694.77,573.11 L694.38,572.78 L694.01,572.43 L693.68,572.07 L693.37,571.70 L693.09,571.33 L692.83,570.94 L692.61,570.55 L692.42,570.15 L692.25,569.75 L692.12,569.35" stroke-width="2.4" fill="none"/>
<path d="M721.34,576.24 L721.26,576.66 L721.14,577.07 L720.99,577.48 L720.79,577.89 L720.57,578.29 L720.31,578.68 L720.01,579.07 L719.68,579.45 L719.32,579.81 L718.93,580.17 L718.51,580.52 L718.06,580.85 L717.58,581.17 L717.07,581.48 L716.53,581.77 L715.97,582.04 L715.39,582.30 L714.79,582.55 L714.16,582.77 L713.52,582.98 L712.86,583.17 L712.18,583.34 L711.49,583.50 L710.79,583.63 L710.07,583.74 L709.35,583.83 L708.62,583.91 L707.88,583.96 L707.14,583.99 L706.40,584.00 L705.66,583.99 L704.92,583.96 L704.18,583.91 L703.45,583.83 L702.73,583.74 L702.01,583.63 L701.31,583.50 L700.62,583.34 L699.94,583.17 L699.28,582.98 L698.64,582.77 L698.01,582.55 L697.41,582.30 L696.83,582.04 L696.27,581.77 L695.73,581.48 L695.22,581.17 L694.74,580.85 L694.29,580.52 L693.87,580.17 L693.48,579.81 L693.12,579.45 L692.79,579.07 L692.49,578.68 L692.23,578.29 L692.01,577.89 L691.81,577.48 L691.66,577.07 L691.54,576.66 L691.46,576.24" stroke-width="2.4" fill="none"/>
</g>
</svg>
</body></html>
